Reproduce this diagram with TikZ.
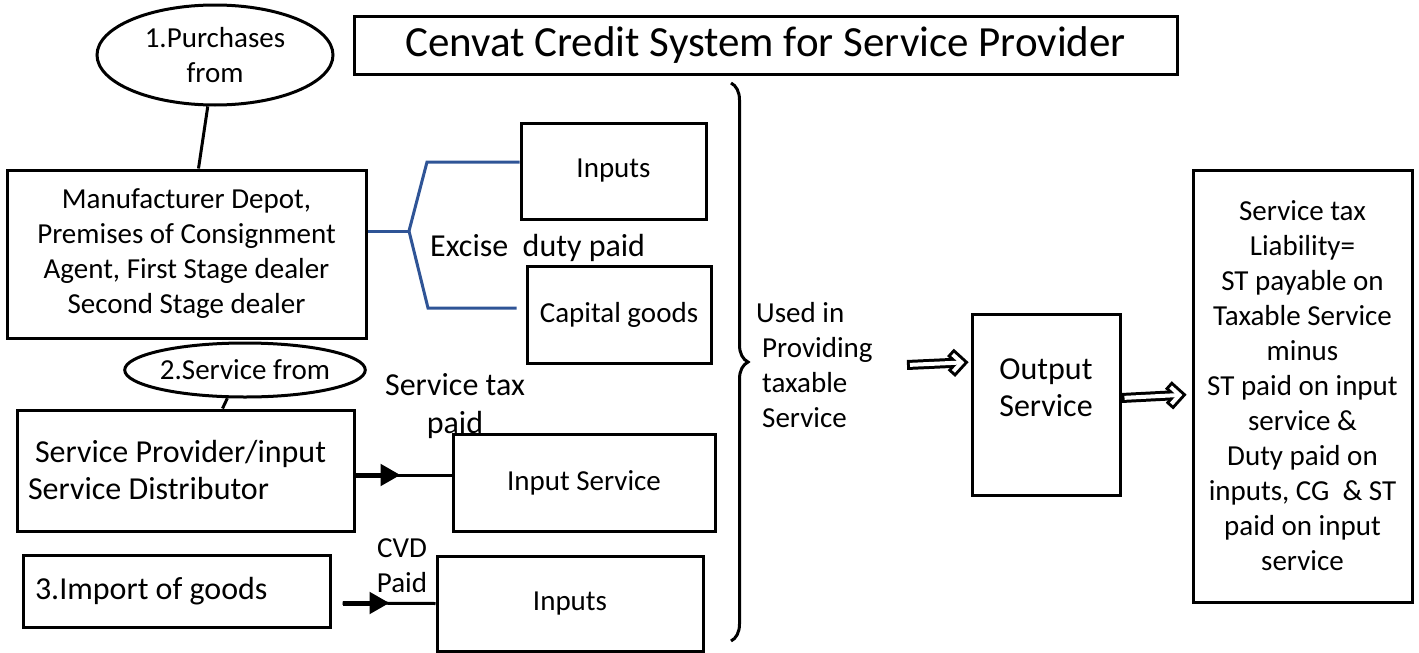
\documentclass[tikz,border=0pt]{standalone}
\usepackage{fontspec}
\setmainfont{Carlito}
\usetikzlibrary{arrows.meta,decorations.pathreplacing,shapes.geometric,calc}
\definecolor{lineblue}{RGB}{47,84,150}
\newcommand\dblarrowx[2]{%
  \draw[dblout] (#1) -- (#2);
  \draw[dblout] ($(#2)!15pt!45:(#1)$) -- (#2) -- ($(#2)!15pt!-45:(#1)$);
  \draw[dblin] ($(#1)!3pt!(#2)$) -- (#2);
  \draw[dblin] ($(#2)!12pt!45:(#1)$) -- (#2) -- ($(#2)!12pt!-45:(#1)$);}
\begin{document}
\begin{tikzpicture}[x=1pt,y=-1pt,
  txt/.style={font=\fontsize{29}{35}\selectfont},
  bigtxt/.style={font=\fontsize{32}{37}\selectfont},
  box/.style={draw, line width=3pt, inner sep=0pt, align=center, txt},
  ell/.style={draw, ellipse, line width=3pt, inner sep=0pt, align=center, txt},
  lbl/.style={inner sep=0pt, txt},
  conn/.style={line width=3pt},
  bconn/.style={line width=3pt, draw=lineblue},
  thickarr/.style={line width=5pt, -{Triangle[length=20pt,width=21pt]}},
  dblout/.style={line width=10pt, line join=miter, black},
  dblin/.style={line width=4pt, line join=miter, white}]
\useasboundingbox (0,0) rectangle (1419,653);

% title
\node[box, font=\fontsize{43}{50}\selectfont, minimum width=823, minimum height=58] (title) at (765.5,45) {Cenvat Credit System for Service Provider};

% left column
\node[ell, minimum width=236, minimum height=100] (e1) at (215,55) {1.Purchases\\from};
\node[box, minimum width=359, minimum height=168] (mfr) at (186.5,254) {Manufacturer Depot,\\Premises of Consignment\\Agent, First Stage dealer\\Second Stage dealer};
\node[ell, minimum width=215, minimum height=54] (e2) at (245,370) {2.Service from};
\node[box, bigtxt, minimum width=337, minimum height=121, align=flush left, text width=315, inner xsep=11] (sp) at (185.5,470.5) {\hspace*{7pt}Service Provider/input\\Service Distributor};
\node[box, bigtxt, minimum width=307, minimum height=72, align=flush left, text width=283, inner xsep=12] (imp) at (176.5,591) {3.Import of goods};

% middle boxes
\node[box, minimum width=185, minimum height=96] (inp1) at (613.5,171) {Inputs};
\node[box, minimum width=184, minimum height=97] (cap) at (619,314.5) {Capital goods};
\node[box, minimum width=262, minimum height=97] (isv) at (584,482.5) {Input Service};
\node[box, minimum width=266, minimum height=95] (inp2) at (570,603.5) {Inputs};

% labels
\node[lbl, font=\fontsize{32}{38}\selectfont, anchor=base west] (exc) at (430,256) {Excise\ \ duty paid};
\node[lbl, font=\fontsize{32}{38}\selectfont, align=center] (stp) at (455,406) {Service tax\\paid};
\node[lbl, align=center] (cvd) at (402,566) {CVD\\Paid};
\node[lbl, align=flush left, anchor=west] (used) at (756,365) {Used in\\\hspace*{6pt}Providing\\\hspace*{6pt}taxable\\\hspace*{6pt}Service};

% right boxes
\node[box, minimum width=148, minimum height=181] (out) at (1046,404.5) {};
\node[lbl, bigtxt, align=center] (outt) at (1046,388) {Output\\Service};
\node[box, minimum width=219, minimum height=432] (st) at (1302.5,386) {Service tax\\Liability=\\ST payable on\\Taxable Service\\minus\\ST paid on input\\service \&\\Duty paid on\\inputs, CG\ \ \& ST\\paid on input\\service};

% connectors
\draw[conn] (e1.262) -- ($(mfr.north)+(12,0)$);
\draw[conn] (e2.238) -- ($(sp.north)+(37,0)$);

\coordinate (b0) at ($(mfr.east)+(0,-23)$);
\coordinate (bj) at (409,231);
\draw[bconn] (b0) -- (bj);
\draw[bconn] (bj) -- (427,162) -- ($(inp1.west)+(0,-9)$);
\draw[bconn] (bj) -- (428,308) -- ($(cap.west)+(-9,-6.5)$);

\coordinate (a2s) at ($(sp.east)+(0,4.5)$);
\coordinate (a2e) at ($(isv.west)+(0,-7.5)$);
\draw[conn] (a2s) -- (a2e);
\draw[thickarr] (a2s) -- ($(a2s)+(45,0)$);

\coordinate (a3s) at ($(imp.east)+(11,12)$);
\draw[conn] (a3s) -- (inp2.west);
\draw[thickarr] (a3s) -- ($(a3s)+(47,0)$);

\coordinate (bt) at (731,83);
\coordinate (bb) at (731,641);
\draw[line width=3pt, decorate, decoration={brace, amplitude=17pt}] (bt) -- (bb);

\coordinate (d1s) at (907,365);
\coordinate (d1e) at ($(out.west)+(-9,-42)$);
\dblarrowx{d1s}{d1e}
\coordinate (d2s) at ($(out.east)+(0,-6.5)$);
\coordinate (d2e) at ($(st.west)+(-12,9)$);
\dblarrowx{d2s}{d2e}
\end{tikzpicture}
\end{document}
